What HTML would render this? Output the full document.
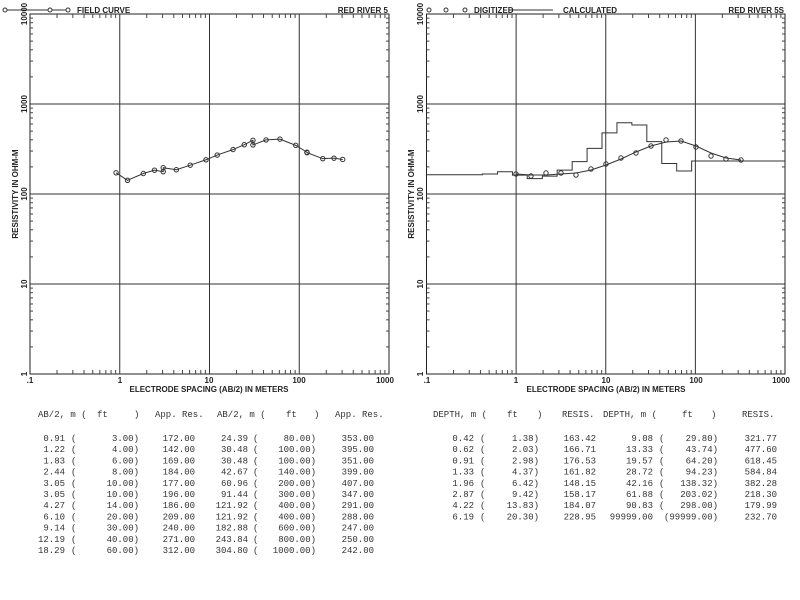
<!DOCTYPE html>
<html><head><meta charset="utf-8"><style>
html,body{margin:0;padding:0;background:#fff;width:800px;height:600px;overflow:hidden}
svg{display:block}
.s{font-family:"Liberation Sans",sans-serif;font-size:8px;font-weight:bold;fill:#222}
.m{font-family:"Liberation Mono",monospace;font-size:9px;fill:#333}
</style></head><body>
<svg id="c" width="800" height="600" xmlns="http://www.w3.org/2000/svg">
<g id="g"></g>
<!-- left chart text -->
<text class="s" x="77" y="13">FIELD CURVE</text>
<text class="s" x="388" y="13" text-anchor="end">RED RIVER 5</text>
<text class="s" transform="translate(18,194) rotate(-90)" text-anchor="middle">RESISTIVITY IN OHM-M</text>
<text class="s" transform="translate(27,14) rotate(-90)" text-anchor="middle">10000</text>
<text class="s" transform="translate(27,104) rotate(-90)" text-anchor="middle">1000</text>
<text class="s" transform="translate(27,194) rotate(-90)" text-anchor="middle">100</text>
<text class="s" transform="translate(27,284) rotate(-90)" text-anchor="middle">10</text>
<text class="s" transform="translate(27,374) rotate(-90)" text-anchor="middle">1</text>
<text class="s" x="30" y="383" text-anchor="middle">.1</text>
<text class="s" x="120" y="383" text-anchor="middle">1</text>
<text class="s" x="209" y="383" text-anchor="middle">10</text>
<text class="s" x="299" y="383" text-anchor="middle">100</text>
<text class="s" x="385" y="383" text-anchor="middle">1000</text>
<text class="s" x="209" y="392" text-anchor="middle">ELECTRODE SPACING (AB/2) IN METERS</text>
<!-- right chart text -->
<text class="s" x="474" y="13">DIGITIZED</text>
<text class="s" x="563" y="13">CALCULATED</text>
<text class="s" x="784" y="13" text-anchor="end">RED RIVER 5S</text>
<text class="s" transform="translate(414,194) rotate(-90)" text-anchor="middle">RESISTIVITY IN OHM-M</text>
<text class="s" transform="translate(423,14) rotate(-90)" text-anchor="middle">10000</text>
<text class="s" transform="translate(423,104) rotate(-90)" text-anchor="middle">1000</text>
<text class="s" transform="translate(423,194) rotate(-90)" text-anchor="middle">100</text>
<text class="s" transform="translate(423,284) rotate(-90)" text-anchor="middle">10</text>
<text class="s" transform="translate(423,374) rotate(-90)" text-anchor="middle">1</text>
<text class="s" x="427" y="383" text-anchor="middle">.1</text>
<text class="s" x="516" y="383" text-anchor="middle">1</text>
<text class="s" x="606" y="383" text-anchor="middle">10</text>
<text class="s" x="696" y="383" text-anchor="middle">100</text>
<text class="s" x="781" y="383" text-anchor="middle">1000</text>
<text class="s" x="606" y="392" text-anchor="middle">ELECTRODE SPACING (AB/2) IN METERS</text>
<!-- left table -->
<g class="m">
<text x="38" y="417">AB/2, m (</text><text x="97" y="417">ft</text><text x="134" y="417">)</text><text x="155" y="417">App. Res.</text>
<text x="217" y="417">AB/2, m (</text><text x="286" y="417">ft</text><text x="314" y="417">)</text><text x="335" y="417">App. Res.</text>
</g>
<g class="m" id="lt"></g>
<g class="m">
<text x="433" y="417">DEPTH, m (</text><text x="507" y="417">ft</text><text x="537" y="417">)</text><text x="562" y="417">RESIS.</text>
<text x="603" y="417">DEPTH, m (</text><text x="682" y="417">ft</text><text x="711" y="417">)</text><text x="742" y="417">RESIS.</text>
</g>
<g class="m" id="rt"></g>
</svg>
<script>
const NS="http://www.w3.org/2000/svg",G=document.getElementById('g');
function el(t,a,p){const e=document.createElementNS(NS,t);for(const k in a)e.setAttribute(k,a[k]);(p||G).appendChild(e);return e;}
function txt(p,x,y,s,anc){const e=el('text',{x:x,y:y,'text-anchor':anc||'start'},p);e.textContent=s;}
function chart(x0,x1){
 const y0=14,y1=374,dx=(x1-x0)/4;
 el('rect',{x:x0,y:y0,width:x1-x0,height:y1-y0,fill:'none',stroke:'#222','stroke-width':1});
 for(let d=1;d<4;d++){const x=x0+d*dx;el('line',{x1:x,y1:y0,x2:x,y2:y1,stroke:'#333'});}
 for(let d=1;d<4;d++){const y=y0+d*90;el('line',{x1:x0,y1:y,x2:x1,y2:y,stroke:'#333'});}
 for(let d=0;d<4;d++)for(let k=2;k<10;k++){
  const x=x0+(d+Math.log10(k))*dx;
  el('line',{x1:x,y1:y0,x2:x,y2:y0+4,stroke:'#444'});el('line',{x1:x,y1:y1,x2:x,y2:y1-4,stroke:'#444'});
  const y=y1-(d+Math.log10(k))*90;
  el('line',{x1:x0,y1:y,x2:x0+3,y2:y,stroke:'#444'});el('line',{x1:x1,y1:y,x2:x1-3,y2:y,stroke:'#444'});
 }
 return {X:v=>x0+(Math.log10(v)+1)*dx,Y:r=>y1-Math.log10(r)*90};
}
const L=chart(30,389),R=chart(426.5,785);
// left legend
el('line',{x1:5,y1:10,x2:68,y2:10,stroke:'#333'});
[5,50,68].forEach(x=>el('circle',{cx:x,cy:10,r:2,fill:'#fff',stroke:'#333'}));
const fd=[[0.91,172],[1.22,142],[1.83,169],[2.44,184],[3.05,177],[3.05,196],[4.27,186],[6.10,209],[9.14,240],[12.19,271],[18.29,312],[24.39,353],[30.48,395],[30.48,351],[42.67,399],[60.96,407],[91.44,347],[121.92,291],[121.92,288],[182.88,247],[243.84,250],[304.8,242]];
el('polyline',{points:fd.map(p=>L.X(p[0])+','+L.Y(p[1])).join(' '),fill:'none',stroke:'#333'});
fd.forEach(p=>el('circle',{cx:L.X(p[0]),cy:L.Y(p[1]),r:2.2,fill:'none',stroke:'#333'}));
// right legend
[429,446,465].forEach(x=>el('circle',{cx:x,cy:10,r:2,fill:'#fff',stroke:'#333'}));
el('line',{x1:509,y1:10,x2:553,y2:10,stroke:'#333'});
// layered model
const dep=[0.42,0.62,0.91,1.33,1.96,2.87,4.22,6.19,9.08,13.33,19.57,28.72,42.16,61.88,90.83];
const res=[163.42,166.71,176.53,161.82,148.15,158.17,184.07,228.95,321.77,477.6,618.45,584.84,382.28,218.3,179.99,232.7];
let pts=[],xs=426.5;
res.forEach((r,i)=>{const xe=i<dep.length?R.X(dep[i]):785;pts.push(xs+','+R.Y(r),xe+','+R.Y(r));xs=xe;});
el('polyline',{points:pts.join(' '),fill:'none',stroke:'#333'});
const dy=[174,176,173,173,175,169,164,158,153,146,140,141,147,156,159,160];
const dg=dy.map((y,i)=>[516+i*15,y]);
const cy=[174,175,175,174,173,170,165,159,152,146,142,141,146,153,158,160];
el('polyline',{points:cy.map((y,i)=>(516+i*15)+','+y).join(' '),fill:'none',stroke:'#333'});
dg.forEach(p=>el('circle',{cx:p[0],cy:p[1],r:2.2,fill:'none',stroke:'#333'}));
// tables
const lt=document.getElementById('lt');
const a=[["0.91","3.00)","172.00","24.39","80.00)","353.00"],["1.22","4.00)","142.00","30.48","100.00)","395.00"],["1.83","6.00)","169.00","30.48","100.00)","351.00"],["2.44","8.00)","184.00","42.67","140.00)","399.00"],["3.05","10.00)","177.00","60.96","200.00)","407.00"],["3.05","10.00)","196.00","91.44","300.00)","347.00"],["4.27","14.00)","186.00","121.92","400.00)","291.00"],["6.10","20.00)","209.00","121.92","400.00)","288.00"],["9.14","30.00)","240.00","182.88","600.00)","247.00"],["12.19","40.00)","271.00","243.84","800.00)","250.00"],["18.29","60.00)","312.00","304.80","1000.00)","242.00"]];
a.forEach((r,i)=>{const y=441+i*11.2;txt(lt,65,y,r[0],'end');txt(lt,71,y,'(');txt(lt,139,y,r[1],'end');txt(lt,195,y,r[2],'end');txt(lt,248,y,r[3],'end');txt(lt,253,y,'(');txt(lt,316,y,r[4],'end');txt(lt,374,y,r[5],'end');});
const rt=document.getElementById('rt');
const b=[["0.42","1.38)","163.42","9.08","29.80)","321.77"],["0.62","2.03)","166.71","13.33","43.74)","477.60"],["0.91","2.98)","176.53","19.57","64.20)","618.45"],["1.33","4.37)","161.82","28.72","94.23)","584.84"],["1.96","6.42)","148.15","42.16","138.32)","382.28"],["2.87","9.42)","158.17","61.88","203.02)","218.30"],["4.22","13.83)","184.07","90.83","298.00)","179.99"],["6.19","20.30)","228.95","99999.00","(99999.00)","232.70"]];
b.forEach((r,i)=>{const y=441+i*11.2;txt(rt,474,y,r[0],'end');txt(rt,480,y,'(');txt(rt,539,y,r[1],'end');txt(rt,596,y,r[2],'end');txt(rt,653,y,r[3],'end');if(i<7)txt(rt,659,y,'(');txt(rt,718,y,r[4],'end');txt(rt,777,y,r[5],'end');});
</script>
</body></html>
